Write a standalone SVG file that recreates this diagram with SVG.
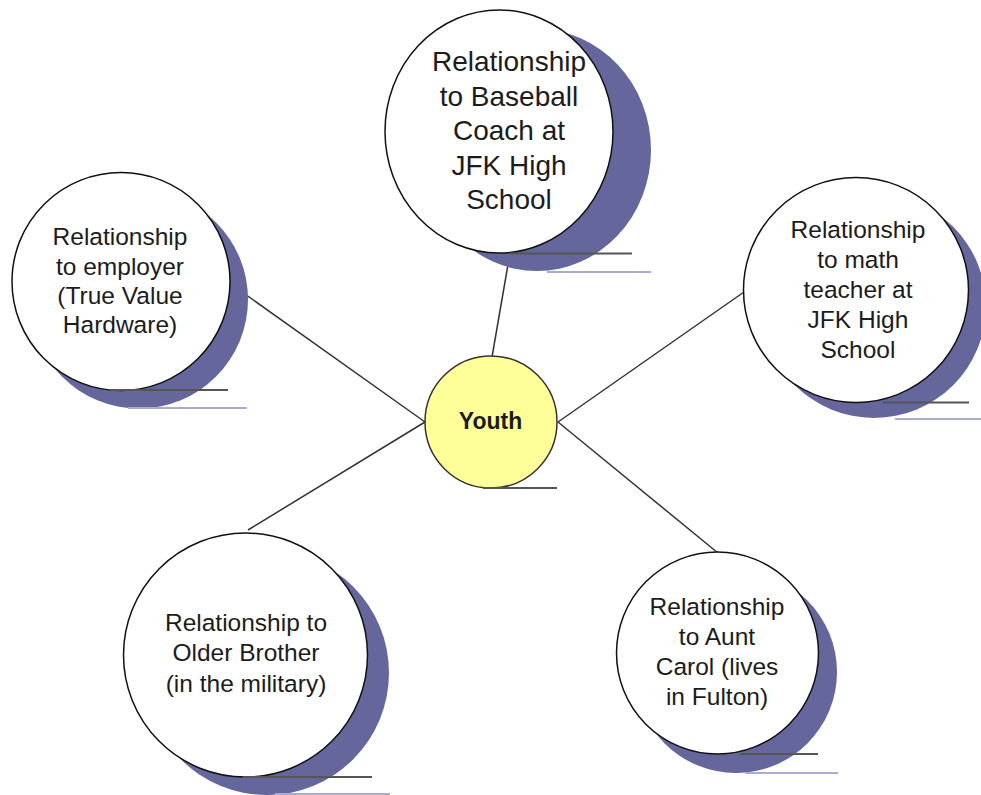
<svg xmlns="http://www.w3.org/2000/svg" width="981" height="795" viewBox="0 0 981 795">
<style>
.shadow{fill:#65669c;stroke:none}
.node{fill:#ffffff;stroke:#111;stroke-width:1.5}
.youth{fill:#ffff99;stroke:#333;stroke-width:1.5}
.ul{stroke:#555;stroke-width:2}
.ul2{stroke:#aaaad2;stroke-width:2}
.conn{stroke:#333;stroke-width:1.5;fill:none}
text{font-family:"Liberation Sans",Arial,sans-serif;fill:#1c1c1c;text-anchor:middle}
.t28{font-size:28px}
.t24{font-size:24.5px}
.tb{font-size:23px;font-weight:bold}
</style>
<rect width="981" height="795" fill="#ffffff"/>
<g id="connectors">
<line class="conn" x1="510" y1="253" x2="492" y2="357"/>
<line class="conn" x1="228" y1="282" x2="425" y2="422"/>
<line class="conn" x1="248" y1="530" x2="425" y2="422"/>
<line class="conn" x1="744" y1="292" x2="558" y2="422"/>
<line class="conn" x1="718" y1="553" x2="558" y2="422"/>
</g>
<g id="node-baseball">
<ellipse class="shadow" cx="537" cy="150" rx="114" ry="121"/>
<line class="ul2" x1="547" y1="272" x2="651" y2="272"/>
<ellipse class="node" cx="499" cy="131.5" rx="114" ry="121.5"/>
<line class="ul" x1="510" y1="253.5" x2="632" y2="253.5"/>
<text class="t28" x="509" y="71">Relationship</text>
<text class="t28" x="509" y="106">to Baseball</text>
<text class="t28" x="509" y="140">Coach at</text>
<text class="t28" x="509" y="175">JFK High</text>
<text class="t28" x="509" y="209">School</text>
</g>
<g id="node-employer">
<circle class="shadow" cx="139" cy="299.5" r="109"/>
<line class="ul2" x1="128" y1="408" x2="247" y2="408"/>
<circle class="node" cx="121" cy="281.5" r="109"/>
<line class="ul" x1="110" y1="390" x2="228" y2="390"/>
<text class="t24" x="120" y="245">Relationship</text>
<text class="t24" x="120" y="274.5">to employer</text>
<text class="t24" x="120" y="304">(True Value</text>
<text class="t24" x="120" y="333">Hardware)</text>
</g>
<g id="node-math">
<circle class="shadow" cx="874" cy="306" r="112"/>
<line class="ul2" x1="895" y1="419" x2="981" y2="419"/>
<circle class="node" cx="856" cy="290" r="112.5"/>
<line class="ul" x1="883" y1="402.5" x2="969" y2="402.5"/>
<text class="t24" x="858" y="237.5">Relationship</text>
<text class="t24" x="858" y="268">to math</text>
<text class="t24" x="858" y="298">teacher at</text>
<text class="t24" x="858" y="328">JFK High</text>
<text class="t24" x="858" y="357.5">School</text>
</g>
<g id="node-brother">
<circle class="shadow" cx="267" cy="673" r="122"/>
<line class="ul2" x1="275" y1="794" x2="390" y2="794"/>
<circle class="node" cx="245.5" cy="655" r="122"/>
<line class="ul" x1="243" y1="777" x2="372" y2="777"/>
<text class="t24" x="246" y="630.5">Relationship to</text>
<text class="t24" x="246" y="661">Older Brother</text>
<text class="t24" x="246" y="692">(in the military)</text>
</g>
<g id="node-aunt">
<circle class="shadow" cx="736" cy="672" r="101"/>
<line class="ul2" x1="745" y1="773" x2="838" y2="773"/>
<circle class="node" cx="717.5" cy="653" r="101"/>
<line class="ul" x1="740" y1="754" x2="818" y2="754"/>
<text class="t24" x="717" y="615">Relationship</text>
<text class="t24" x="717" y="645">to Aunt</text>
<text class="t24" x="717" y="675">Carol (lives</text>
<text class="t24" x="717" y="705">in Fulton)</text>
</g>
<g id="node-youth">
<circle class="youth" cx="491" cy="422" r="66"/>
<line class="ul" x1="483" y1="488" x2="557" y2="488"/>
<text class="tb" x="490.5" y="429">Youth</text>
</g>
</svg>
